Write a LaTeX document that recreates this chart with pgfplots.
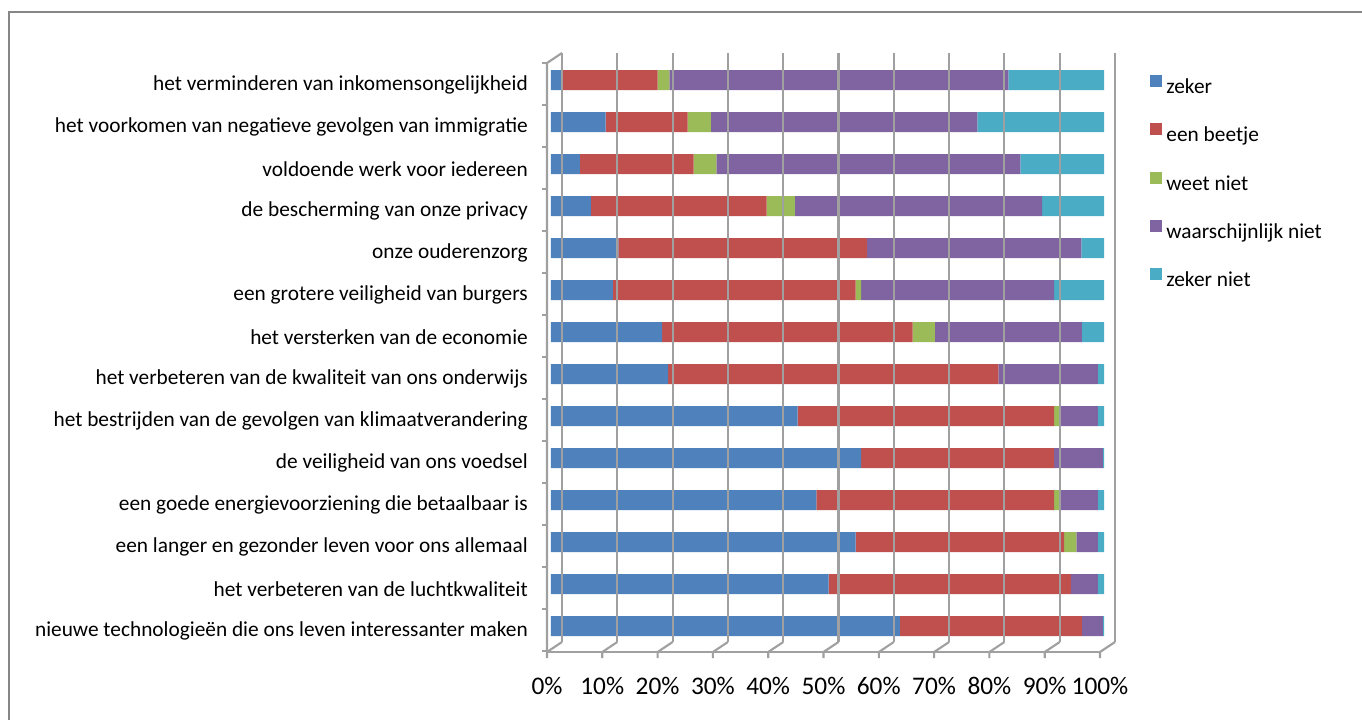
\documentclass[border=0pt]{standalone}
\usepackage{pgfplots}
\pgfplotsset{compat=1.18}
\usepackage{pgfplotstable}
\usepackage{fontspec}
\setmainfont{Carlito}

\definecolor{czeker}{RGB}{79,129,189}
\definecolor{cbeetje}{RGB}{192,80,77}
\definecolor{cweet}{RGB}{155,187,89}
\definecolor{cwn}{RGB}{128,100,162}
\definecolor{czn}{RGB}{75,172,198}
\definecolor{gridc}{RGB}{160,160,160}
\definecolor{borderc}{RGB}{134,134,134}

\pgfplotsset{sq/.style={fill=#1, draw=none,
  legend image code/.code={\fill[#1] (0pt,0pt) rectangle (9pt,9pt);}}}

% y = 13 is the top row
\pgfplotstableread{
y zeker beetje weetniet wn zn
13 2.1 17.2 2.1 61.3 17.3
12 9.9 14.8 4.2 48.2 22.9
11 5.2 20.6 4.1 55.0 15.1
10 7.2 31.8 5.1 44.7 11.2
9 12.2 44.9 0 38.8 4.1
8 11.2 43.9 1.0 34.9 9.0
7 20.1 45.3 4.0 26.6 4.0
6 21.2 59.7 0 18.0 1.1
5 44.6 46.4 1.0 6.9 1.1
4 56.1 34.9 0 8.8 0.2
3 48.0 43.0 1.0 6.9 1.1
2 55.1 37.7 2.2 3.9 1.1
1 50.2 43.8 0 4.9 1.1
0 63.1 32.9 0 3.8 0.2
}\data

\begin{document}
\begin{tikzpicture}
\useasboundingbox (-413.25pt,-54pt) rectangle (608.25pt,485.25pt);
\draw[borderc, line width=1.5pt] (-406.5pt,-80pt) -- (-406.5pt,476.25pt) -- (640pt,476.25pt);
\begin{axis}[
  at={(0pt,0pt)}, anchor=south west,
  scale only axis, width=414.75pt, height=441pt,
  xmin=0, xmax=100, ymin=-0.5, ymax=13.5,
  xbar stacked, bar width=15pt,
  axis line style={draw=none}, major tick length=0pt, tick style={draw=none},
  clip=false,
  xtick={0,10,...,100},
  xticklabels={0\%,10\%,20\%,30\%,40\%,50\%,60\%,70\%,80\%,90\%,100\%},
  xticklabel style={font=\fontsize{19}{22}\selectfont, anchor=base, inner sep=0pt,
    yshift=-35.25pt, xshift=-3pt},
  ytick={0,...,13},
  yticklabels={nieuwe technologieën die ons leven interessanter maken,
    het verbeteren van de luchtkwaliteit,
    een langer en gezonder leven voor ons allemaal,
    een goede energievoorziening die betaalbaar is,
    de veiligheid van ons voedsel,
    het bestrijden van de gevolgen van klimaatverandering,
    het verbeteren van de kwaliteit van ons onderwijs,
    het versterken van de economie,
    een grotere veiligheid van burgers,
    onze ouderenzorg,
    de bescherming van onze privacy,
    voldoende werk voor iedereen,
    het voorkomen van negatieve gevolgen van immigratie,
    het verminderen van inkomensongelijkheid},
  yticklabel style={font=\fontsize{16}{19}\selectfont, anchor=east, inner sep=0pt,
    xshift=-17.25pt, yshift=-3.75pt},
  legend style={at={(1.075,0.978)}, anchor=north west, draw=none, fill=none,
    font=\fontsize{16}{19}\selectfont, row sep=21pt,
    nodes={inner sep=0pt},
    /tikz/every odd column/.append style={column sep=3.5pt}},
  legend cell align=left,
]
% back wall grid and floor
\pgfplotsinvokeforeach{0,...,10}{
  \draw[gridc, line width=1.6pt] (axis cs:1.99+10*#1,-0.381) -- (axis cs:1.99+10*#1,13.643);
  \draw[gridc, line width=1.6pt] (axis cs:-0.72+10*#1,-0.762) -- (axis cs:-0.72+10*#1,-0.619) -- (axis cs:1.99+10*#1,-0.381);
}
\draw[gridc, line width=1.6pt] (axis cs:-0.72,-0.619) -- (axis cs:99.28,-0.619);
\draw[gridc, line width=1.6pt] (axis cs:-0.72,-0.619) -- (axis cs:-0.72,13.405) -- (axis cs:1.99,13.643);
\pgfplotsinvokeforeach{0,...,14}{
  \draw[gridc, line width=1.6pt] (axis cs:-1.63,13.405-#1) -- (axis cs:-0.72,13.405-#1);
}

\addplot[sq=czeker] table[x=zeker, y=y] {\data};
\addplot[sq=cbeetje] table[x=beetje, y=y] {\data};
\addplot[sq=cweet] table[x=weetniet, y=y] {\data};
\addplot[sq=cwn] table[x=wn, y=y] {\data};
\addplot[sq=czn] table[x=zn, y=y] {\data};
\legend{zeker, een beetje, weet niet, waarschijnlijk niet, zeker niet}
\end{axis}
\end{tikzpicture}
\end{document}
